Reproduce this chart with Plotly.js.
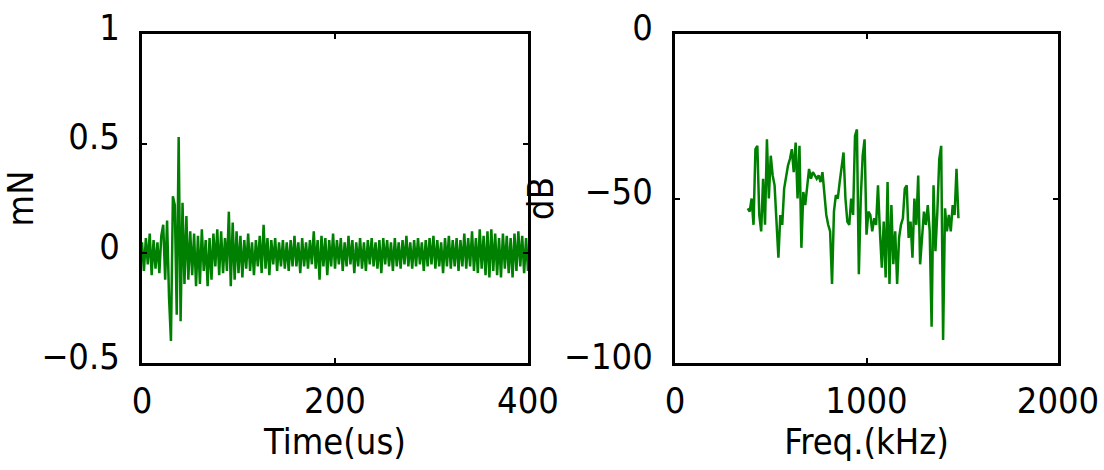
<!DOCTYPE html>
<html>
<head>
<meta charset="utf-8">
<script src="https://cdn.plot.ly/plotly-3.0.1.min.js"></script>
<style>html,body{margin:0;padding:0;background:#fff;}#chart{width:1104px;height:470px;}</style>
</head>
<body>
<div id="chart"></div>
<script>
// Time-domain signal (mN), sampled every 2 us starting at 0 us
const timeStart = 0;
const timeStep = 2;
const forceValues = [
  0.05,-0.08,0.07,-0.05,0.09,-0.10,0.06,-0.07,0.05,-0.09,
  0.08,0.13,-0.12,0.15,-0.20,-0.40,0.26,0.22,-0.28,0.53,
  -0.31,0.23,-0.14,0.17,-0.12,0.10,-0.10,0.09,-0.15,0.08,
  -0.14,0.11,-0.08,0.06,-0.15,0.07,-0.12,0.09,-0.06,0.11,
  -0.10,0.10,-0.09,0.07,-0.08,0.19,-0.15,0.14,-0.12,0.10,
  -0.09,0.08,-0.11,0.06,-0.07,0.09,-0.08,0.05,-0.10,0.06,
  -0.06,0.08,-0.09,0.13,-0.07,0.07,-0.10,0.06,-0.05,0.07,
  -0.08,0.05,-0.06,0.06,-0.07,0.05,-0.08,0.06,-0.06,0.08,
  -0.06,0.05,-0.09,0.07,-0.06,0.05,-0.07,0.06,-0.05,0.10,
  -0.07,0.06,-0.12,0.08,-0.06,0.07,-0.10,0.06,-0.06,0.09,
  -0.07,0.06,-0.05,0.07,-0.08,0.05,-0.06,0.08,-0.05,0.06,
  -0.09,0.05,-0.06,0.07,-0.07,0.05,-0.08,0.06,-0.05,0.07,
  -0.06,0.05,-0.07,0.06,-0.09,0.07,-0.05,0.06,-0.06,0.05,
  -0.08,0.07,-0.06,0.05,-0.07,0.06,-0.05,0.08,-0.06,0.05,
  -0.07,0.06,-0.06,0.07,-0.05,0.05,-0.08,0.06,-0.06,0.07,
  -0.05,0.08,-0.07,0.06,-0.06,0.05,-0.09,0.07,-0.06,0.08,
  -0.07,0.06,-0.06,0.07,-0.08,0.06,-0.06,0.09,-0.07,0.07,
  -0.06,0.10,-0.08,0.07,-0.09,0.11,-0.07,0.08,-0.10,0.10,
  -0.11,0.11,-0.08,0.09,-0.10,0.07,-0.11,0.09,-0.07,0.08,
  -0.09,0.07,-0.11,0.09,-0.08,0.10,-0.06,0.08,-0.09,0.07,
  -0.08
];

// Spectrum (dB), sampled every 10 kHz starting at 380 kHz
const freqStart = 380;
const freqStep = 10;
const dbValues = [
  -53,-54,-50,-58,-35,-34,-55,-60,-44,-58,
  -32,-50,-37,-43,-46,-58,-68,-55,-58,-47,
  -43,-40,-38,-35,-42,-33,-50,-34,-65,-48,
  -52,-46,-41,-44,-42,-43,-44,-43,-45,-42,
  -50,-55,-58,-60,-76,-54,-49,-50,-45,-41,
  -36,-50,-57,-58,-50,-55,-31,-29,-73,-50,
  -37,-32,-61,-54,-55,-60,-56,-58,-46,-60,
  -71,-57,-74,-45,-76,-52,-70,-60,-76,-62,
  -58,-56,-47,-46,-62,-57,-68,-50,-58,-43,
  -70,-62,-54,-58,-52,-60,-89,-46,-66,-54,
  -38,-34,-93,-53,-60,-55,-60,-52,-55,-41,
  -56
];

const leftXTicks = [0, 200, 400];
const leftYTicks = [-0.5, 0, 0.5, 1];
const rightXTicks = [0, 1000, 2000];
const rightYTicks = [-100, -50, 0];

const FONT = "'DejaVu Sans Condensed', 'Liberation Sans', sans-serif";
const FS = 36;
const green = '#008000';

const axisCommon = {
  showline: true, linecolor: '#000', linewidth: 3, mirror: 'ticks',
  ticks: 'inside', ticklen: 5, tickwidth: 2, tickcolor: '#000',
  showgrid: false, zeroline: false,
  tickfont: {family: FONT, size: FS, color: '#000'}
};
const titleFont = {family: FONT, size: FS, color: '#000'};

const traces = [
  {x0: timeStart, dx: timeStep, y: forceValues, type: 'scatter', mode: 'lines',
   line: {color: green, width: 2.5}, xaxis: 'x', yaxis: 'y', hoverinfo: 'skip'},
  {x0: freqStart, dx: freqStep, y: dbValues, type: 'scatter', mode: 'lines',
   line: {color: green, width: 2.5}, xaxis: 'x2', yaxis: 'y2', hoverinfo: 'skip'}
];

const layout = {
  width: 1104, height: 470,
  margin: {l: 0, r: 0, t: 0, b: 0},
  paper_bgcolor: '#fff', plot_bgcolor: '#fff',
  showlegend: false,
  xaxis: Object.assign({}, axisCommon, {
    domain: [142/1104, 528/1104], range: [0, 400], tickvals: leftXTicks, anchor: 'y',
    ticklabelstandoff: 4,
    title: {text: 'Time(us)', font: titleFont, standoff: 6}
  }),
  yaxis: Object.assign({}, axisCommon, {
    domain: [1 - 363/470, 1 - 34/470], range: [-0.5, 1], tickvals: leftYTicks, anchor: 'x',
    ticklabelstandoff: 12, ticklabelshift: -7,
    title: {text: 'mN', font: titleFont, standoff: 18}
  }),
  xaxis2: Object.assign({}, axisCommon, {
    domain: [675/1104, 1058/1104], range: [0, 2000], tickvals: rightXTicks, anchor: 'y2',
    ticklabelstandoff: 4,
    title: {text: 'Freq.(kHz)', font: titleFont, standoff: 6}
  }),
  yaxis2: Object.assign({}, axisCommon, {
    domain: [1 - 363/470, 1 - 34/470], range: [-100, 0], tickvals: rightYTicks, anchor: 'x2',
    ticklabelstandoff: 12, ticklabelshift: -7,
    title: {text: 'dB', font: titleFont, standoff: 0}
  })
};

Plotly.newPlot('chart', traces, layout, {staticPlot: true, displayModeBar: false});
</script>
</body>
</html>
